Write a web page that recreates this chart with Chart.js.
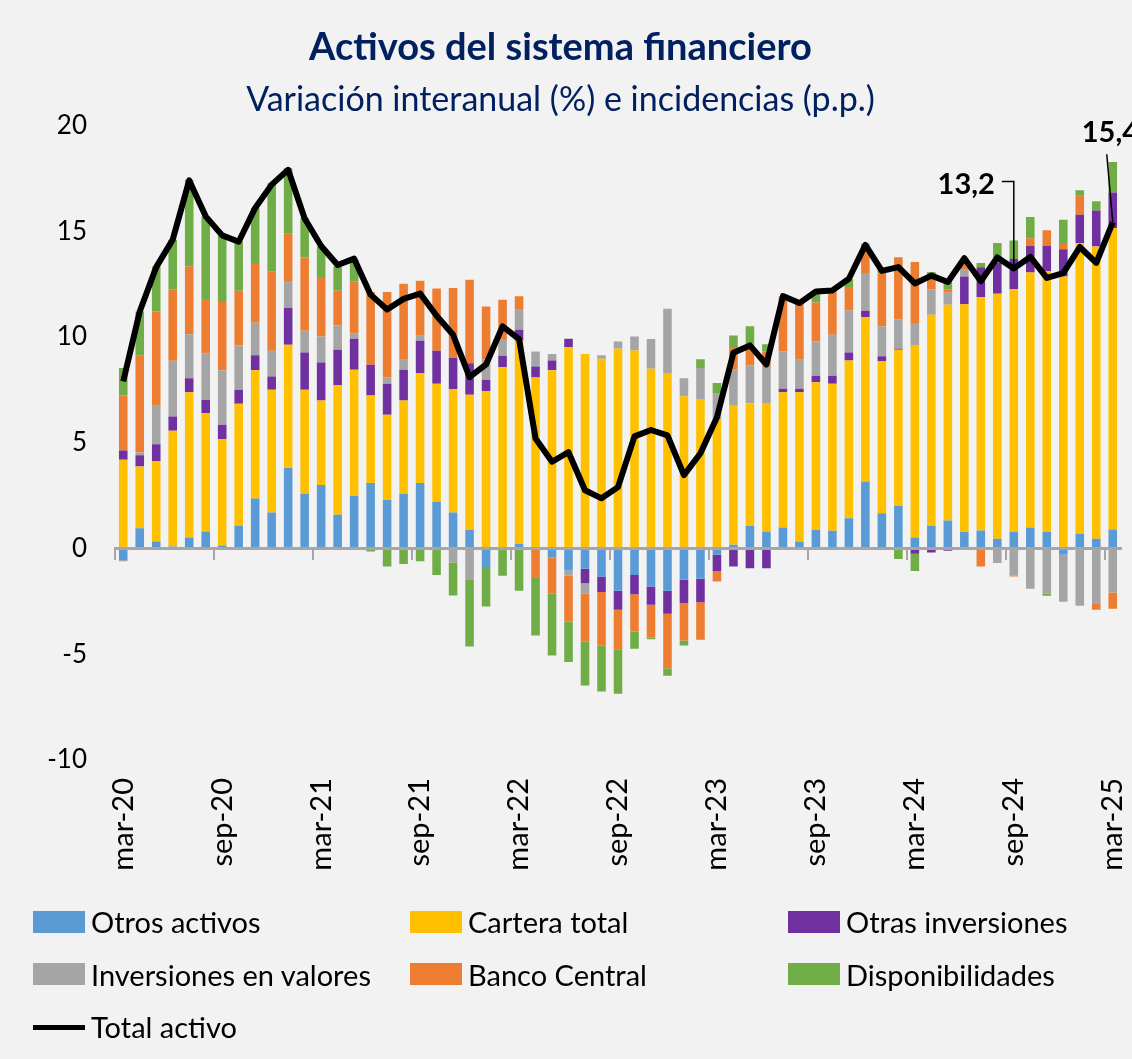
<!DOCTYPE html>
<html>
<head>
<meta charset="utf-8">
<script src="https://cdn.jsdelivr.net/npm/chart.js@4.4.1/dist/chart.umd.min.js"></script>
<style>
  body { margin: 0; background: #f2f2f2; }
  #wrap { position: relative; width: 1132px; height: 1059px; background: #f2f2f2; }
  #legend { position: absolute; left: 0; top: 0; width: 1132px; height: 1059px; pointer-events: none; }
  .item { position: absolute; display: flex; align-items: center; font-family: Lato, "Open Sans", sans-serif; font-size: 29px; color: #000; white-space: nowrap; }
  .swatch { width: 52px; height: 22px; margin-right: 6px; }
  .swatch.line { height: 5px; margin-top: 1px; }
</style>
</head>
<body>
<div id="wrap">
  <canvas id="chart" width="1132" height="890"></canvas>
  <div id="legend"></div>
</div>
<script>
const labels = [
  "mar-20","abr-20","may-20","jun-20","jul-20","ago-20","sep-20","oct-20","nov-20","dic-20","ene-21","feb-21",
  "mar-21","abr-21","may-21","jun-21","jul-21","ago-21","sep-21","oct-21","nov-21","dic-21","ene-22","feb-22",
  "mar-22","abr-22","may-22","jun-22","jul-22","ago-22","sep-22","oct-22","nov-22","dic-22","ene-23","feb-23",
  "mar-23","abr-23","may-23","jun-23","jul-23","ago-23","sep-23","oct-23","nov-23","dic-23","ene-24","feb-24",
  "mar-24","abr-24","may-24","jun-24","jul-24","ago-24","sep-24","oct-24","nov-24","dic-24","ene-25","feb-25",
  "mar-25"
];

// incidencias (p.p.)
const otrosActivos = [
  -0.54, 0.96, 0.33, 0.09, 0.52, 0.8, 0.14, 1.09, 2.36, 1.7, 3.8, 2.58,
  3.0, 1.59, 2.49, 3.1, 2.3, 2.58, 3.09, 2.21, 1.7, 0.88, -0.88, -0.05,
  0.22, 0, -0.43, -1.04, -0.96, -1.32, -2.0, -1.26, -1.8, -2.0, -1.48, -1.43,
  -0.3, 0.17, 1.07, 0.8, 0.99, 0.33, 0.88, 0.84, 1.43, 3.17, 1.67, 2.02,
  0.52, 1.07, 1.32, 0.79, 0.85, 0.46, 0.79, 0.99, 0.79, -0.3, 0.69, 0.46,
  0.9
];
const carteraTotal = [
  4.19, 2.92, 3.81, 5.47, 6.87, 5.6, 5.03, 5.75, 6.06, 5.8, 5.83, 4.92,
  4.0, 6.13, 5.96, 4.13, 4.02, 4.42, 5.2, 5.58, 5.83, 6.39, 7.44, 8.57,
  9.61, 8.08, 8.42, 9.52, 9.19, 8.97, 9.44, 9.36, 8.5, 8.29, 7.19, 7.06,
  6.08, 6.58, 5.8, 6.04, 6.39, 7.05, 6.98, 6.95, 7.46, 7.77, 7.19, 7.37,
  9.1, 9.98, 10.2, 10.76, 11.03, 11.58, 11.47, 12.06, 12.31, 12.86, 13.75, 13.82,
  14.25
];
const otrasInversiones = [
  0.44, 0.53, 0.79, 0.68, 0.66, 0.62, 0.68, 0.66, 0.71, 0.63, 1.75, 1.77,
  1.79, 1.67, 1.46, 1.45, 1.47, 1.45, 1.53, 1.56, 1.47, 1.49, 0.53, 0.54,
  0.51, 0.52, 0.47, 0.39, -0.68, -0.74, -0.9, -0.91, -0.86, -1.09, -1.1, -1.11,
  -0.76, -0.85, -0.93, -0.93, 0.17, 0.17, 0.3, 0.37, 0.38, 0.3, 0.23, 0.05,
  -0.25, -0.19, -0.11, 1.31, 1.42, 1.45, 1.42, 1.26, 1.21, 1.29, 1.34, 1.7,
  1.68
];
const inversionesValores = [
  -0.07, 0.13, 1.82, 2.63, 2.08, 2.21, 2.57, 2.11, 1.54, 1.22, 1.26, 1.02,
  1.23, 1.15, 0.27, 0, 0.3, 0.47, 0.24, 0, -0.66, -1.45, 0.98, 0.79,
  0.94, 0.71, 0.3, -0.24, -0.5, 0.16, 0.35, 0.66, 1.4, 3.04, 0.86, 1.47,
  1.23, 1.7, 1.78, 1.8, 1.76, 1.37, 1.63, 1.94, 1.98, 1.78, 1.41, 1.4,
  1.04, 1.21, 0.57, 0.32, 0, -0.69, -1.28, -1.91, -2.14, -2.22, -2.71, -2.62,
  -2.08
];
const bancoCentral = [
  2.6, 4.6, 4.45, 3.39, 3.2, 2.56, 3.23, 2.57, 2.82, 3.76, 2.24, 3.47,
  2.81, 1.64, 2.44, 3.44, 4.03, 3.59, 2.6, 2.94, 3.31, 3.94, 2.49, 1.86,
  0.64, -1.4, -1.71, -2.17, -2.26, -2.54, -1.86, -1.75, -1.55, -2.57, -1.77, -1.78,
  -0.5, 1.07, 1.06, 0.67, 2.6, 2.68, 1.84, 2.13, 1.11, 1.33, 2.49, 2.93,
  2.88, 0.63, 0.14, 0.52, -0.85, 0, -0.04, 0.36, 0.73, 0.29, 0.89, -0.28,
  -0.77
];
const disponibilidades = [
  1.3, 2.06, 2.13, 2.34, 4.1, 3.9, 3.13, 2.34, 2.6, 4.16, 3.1, 1.86,
  1.45, 1.15, 1.05, -0.14, -0.85, -0.74, -0.61, -1.26, -1.56, -3.18, -1.86, -1.24,
  -2.0, -2.71, -2.92, -1.92, -2.08, -2.16, -2.11, -0.82, -0.08, -0.36, -0.24, 0.42,
  0.51, 0.55, 0.79, 0.35, 0, -0.06, 0.44, 0, 0.37, 0.05, 0.19, -0.5,
  -0.81, 0.18, 0.47, 0, 0.19, 0.95, 0.88, 1.0, -0.1, 1.1, 0.26, 0.43,
  1.44
];
// variación interanual (%)
const totalActivo = [
  7.9, 11.2, 13.3, 14.6, 17.4, 15.7, 14.8, 14.5, 16.1, 17.2, 17.9, 15.6,
  14.3, 13.4, 13.7, 12.0, 11.3, 11.8, 12.05, 11.0, 10.1, 8.1, 8.7, 10.5,
  9.9, 5.2, 4.1, 4.55, 2.75, 2.37, 2.9, 5.3, 5.6, 5.35, 3.47, 4.5,
  6.2, 9.25, 9.6, 8.7, 11.93, 11.6, 12.15, 12.2, 12.75, 14.35, 13.12, 13.3,
  12.53, 12.9, 12.6, 13.72, 12.63, 13.76, 13.24, 13.78, 12.79, 13.02, 14.25, 13.5,
  15.42
];
const yTicks = [-10, -5, 0, 5, 10, 15, 20];
const calloutIdx = [54, 60];

const FONT = "Lato, 'Open Sans', sans-serif";
Chart.defaults.font.family = FONT;
Chart.defaults.color = "#000";

function barSet(label, data, color) {
  return {
    type: "bar",
    label: label,
    data: data,
    backgroundColor: color,
    borderWidth: 0,
    stack: "inc",
    order: 1,
    categoryPercentage: 1,
    barPercentage: 0.52
  };
}

const callouts = {
  id: "callouts",
  afterDatasetsDraw(chart) {
    const { ctx, scales: { x, y } } = chart;
    const fmt = (v) => v.toFixed(1).replace(".", ",");
    ctx.save();
    ctx.strokeStyle = "#000";
    ctx.lineWidth = 1.5;
    ctx.fillStyle = "#000";
    ctx.font = "bold 29px " + FONT;
    ctx.textBaseline = "middle";

    // 13,2
    let i = calloutIdx[0];
    let px = x.getPixelForValue(i), py = y.getPixelForValue(totalActivo[i]);
    ctx.beginPath();
    ctx.moveTo(px - 12, py - 87);
    ctx.lineTo(px, py - 87);
    ctx.lineTo(px, py);
    ctx.stroke();
    ctx.textAlign = "right";
    ctx.fillText(fmt(totalActivo[i]), px - 19, py - 84);

    // 15,4
    i = calloutIdx[1];
    px = x.getPixelForValue(i); py = y.getPixelForValue(totalActivo[i]);
    ctx.beginPath();
    ctx.moveTo(px - 6, py - 68);
    ctx.lineTo(px, py);
    ctx.stroke();
    ctx.textAlign = "left";
    ctx.fillText(fmt(totalActivo[i]), px - 31, py - 90);
    ctx.restore();
  }
};

const ctx = document.getElementById("chart").getContext("2d");
const chart = new Chart(ctx, {
  data: {
    labels: labels,
    datasets: [
      barSet("Otros activos", otrosActivos, "#5b9bd5"),
      barSet("Cartera total", carteraTotal, "#ffc000"),
      barSet("Otras inversiones", otrasInversiones, "#7030a0"),
      barSet("Inversiones en valores", inversionesValores, "#a5a5a5"),
      barSet("Banco Central", bancoCentral, "#ed7d31"),
      barSet("Disponibilidades", disponibilidades, "#70ad47"),
      {
        type: "line",
        label: "Total activo",
        data: totalActivo,
        borderColor: "#000",
        backgroundColor: "#000",
        borderWidth: 6,
        pointRadius: 0,
        tension: 0,
        borderJoinStyle: "round",
        stack: "total",
        order: 0
      }
    ]
  },
  options: {
    responsive: false,
    animation: false,
    layout: { padding: { left: 0, right: 11, top: 0, bottom: 0 } },
    plugins: {
      legend: { display: false },
      tooltip: { enabled: false },
      title: {
        display: true,
        text: "Activos del sistema financiero",
        color: "#002060",
        font: { size: 38, weight: "bold" },
        padding: { top: 25, bottom: 9 }
      },
      subtitle: {
        display: true,
        text: "Variación interanual (%) e incidencias (p.p.)",
        color: "#002060",
        font: { size: 34, weight: "normal" },
        padding: { top: 0, bottom: 5 }
      }
    },
    scales: {
      x: {
        stacked: true,
        grid: { display: false, drawTicks: false },
        border: { display: false },
        ticks: {
          autoSkip: false,
          minRotation: 90,
          maxRotation: 90,
          padding: 18,
          font: { size: 29 },
          callback: function (v, i) { return i % 6 === 0 ? this.getLabelForValue(v) : ""; }
        },
        afterFit: (s) => { s.height = 130; s.paddingLeft = 0; s.paddingRight = 0; }
      },
      x0: {
        type: "category",
        position: { y: 0 },
        offset: true,
        grid: {
          offset: true,
          drawOnChartArea: false,
          drawTicks: true,
          tickLength: 10,
          lineWidth: 2,
          color: (c) => (c.index % 6 === 0 ? "#a6a6a6" : "rgba(0,0,0,0)"),
          z: 1
        },
        border: { display: true, color: "#a6a6a6", width: 3, z: 1 },
        ticks: { display: false }
      },
      y: {
        stacked: true,
        min: yTicks[0],
        max: yTicks[yTicks.length - 1],
        afterBuildTicks: (s) => { s.ticks = yTicks.map((v) => ({ value: v })); },
        ticks: { font: { size: 26 }, color: "#000", padding: 28 },
        grid: { display: false, drawTicks: false },
        border: { display: false },
        afterFit: (s) => { s.width = 115; s.paddingTop = 0; s.paddingBottom = 0; }
      }
    }
  },
  plugins: [callouts]
});

// legend in three columns below the chart
const legend = document.getElementById("legend");
const colX = [33, 410, 788];
chart.data.datasets.forEach((ds, i) => {
  const item = document.createElement("div");
  item.className = "item";
  item.style.left = colX[i % 3] + "px";
  item.style.top = (904 + Math.floor(i / 3) * 52.5) + "px";
  const sw = document.createElement("div");
  sw.className = "swatch" + (ds.type === "line" ? " line" : "");
  sw.style.background = ds.type === "line" ? ds.borderColor : ds.backgroundColor;
  const tx = document.createElement("span");
  tx.textContent = ds.label;
  item.appendChild(sw);
  item.appendChild(tx);
  legend.appendChild(item);
});
</script>
</body>
</html>
